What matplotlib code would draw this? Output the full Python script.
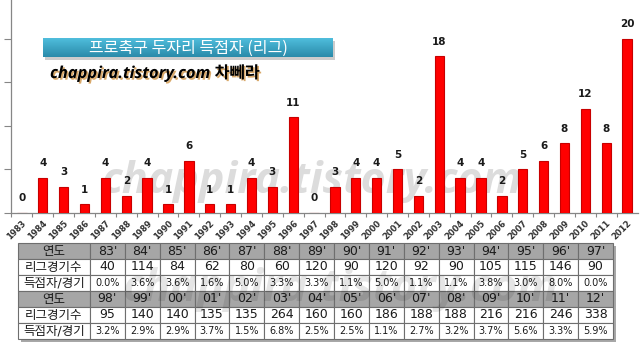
import numpy as np
import matplotlib
matplotlib.use("Agg")
import matplotlib.pyplot as plt
import matplotlib.patheffects as pe
from matplotlib.patches import Rectangle

# ---- data -------------------------------------------------------------
years = ["1983", "1984", "1985", "1986", "1987", "1988", "1989", "1990",
         "1991", "1992", "1993", "1994", "1995", "1996", "1997", "1998",
         "1999", "2000", "2001", "2002", "2003", "2004", "2005", "2006",
         "2007", "2008", "2009", "2010", "2011", "2012"]
scorers = [0, 4, 3, 1, 4, 2, 4, 1, 6, 1, 1, 4, 3, 11, 0,
           3, 4, 4, 5, 2, 18, 4, 4, 2, 5, 6, 8, 12, 8, 20]
seasons = ["83'", "84'", "85'", "86'", "87'", "88'", "89'", "90'", "91'",
           "92'", "93'", "94'", "95'", "96'", "97'",
           "98'", "99'", "00'", "01'", "02'", "03'", "04'", "05'", "06'",
           "07'", "08'", "09'", "10'", "11'", "12'"]
games = [40, 114, 84, 62, 80, 60, 120, 90, 120, 92, 90, 105, 115, 146, 90,
         95, 140, 140, 135, 135, 264, 160, 160, 186, 188, 188, 216, 216, 246, 338]
per_game = ["0.0%", "3.6%", "3.6%", "1.6%", "5.0%", "3.3%", "3.3%", "1.1%",
            "5.0%", "1.1%", "1.1%", "3.8%", "3.0%", "8.0%", "0.0%",
            "3.2%", "2.9%", "2.9%", "3.7%", "1.5%", "6.8%", "2.5%", "2.5%",
            "1.1%", "2.7%", "3.2%", "3.7%", "5.6%", "3.3%", "5.9%"]
row_names = ["연도", "리그경기수", "득점자/경기"]
title = "프로축구 두자리 득점자 (리그)"
subtitle = "chappira.tistory.com 차뻬라"
watermark = "chappira.tistory.com"

W, H = 642, 344
fig = plt.figure(figsize=(W / 100, H / 100), dpi=100)
fig.patch.set_facecolor("white")


def fx(px):
    return px / W


def fy(py):
    return 1 - py / H


KR = ["DejaVu Sans", "Noto Sans CJK KR"]

# ---- watermark behind the bars ----------------------------------------
fig.text(fx(311), fy(193), watermark, ha="center", va="baseline",
         fontsize=31, fontweight="bold", fontstyle="italic",
         family=["Open Sans", "DejaVu Sans"], color="#dcdcdc", zorder=-5)

# ---- bar chart ---------------------------------------------------------
ax = fig.add_axes([fx(11.5), fy(213), fx(637.5) - fx(11.5), 213 / H])
ax.patch.set_alpha(0)
ax.set_zorder(2)
x = np.arange(len(years))
bars = ax.bar(x, scorers, width=0.45, color="#ff0000",
              edgecolor="#c80000", linewidth=0.8, zorder=3)
for xi, v in zip(x, scorers):
    ax.annotate(str(v), (xi, v), xytext=(0, 7), textcoords="offset points",
                ha="center", va="bottom", fontsize=7.5, fontweight="bold",
                color="#1a1a1a", zorder=4)

ax.set_xlim(-0.5, len(years) - 0.5)
ax.set_ylim(0, 24.48)
ax.set_yticks([0, 5, 10, 15, 20])
ax.set_yticklabels([])
ax.tick_params(axis="y", length=5, color="#868686", width=0.8)
ax.set_xticks(x - 0.5, minor=True)
ax.set_xticks(x)
ax.set_xticklabels(years, rotation=45, ha="right", va="top",
                   rotation_mode="anchor", fontsize=6, fontweight="bold",
                   color="#333333")
ax.tick_params(axis="x", which="major", length=0, pad=4)
ax.tick_params(axis="x", which="minor", length=3, color="#868686", width=0.8)
for s in ("top", "right"):
    ax.spines[s].set_visible(False)
for s in ("left", "bottom"):
    ax.spines[s].set_color("#868686")
    ax.spines[s].set_linewidth(0.9)

# ---- title banner -------------------------------------------------------
shadow = Rectangle((fx(45), fy(60)), fx(333) - fx(43), fy(41) - fy(60),
                   transform=fig.transFigure, facecolor="#9a9a9a",
                   alpha=0.5, edgecolor="none", zorder=-2)
fig.patches.append(shadow)
tax = fig.add_axes([fx(43), fy(57), fx(333) - fx(43), fy(38) - fy(57)])
tax.set_zorder(3)
grad = np.linspace(0, 1, 32).reshape(-1, 1)
top_c = np.array([0x4f, 0xbd, 0xdc]) / 255
bot_c = np.array([0x2a, 0x8b, 0xaa]) / 255
img = top_c[None, None, :] * (1 - grad[:, :, None]) + bot_c[None, None, :] * grad[:, :, None]
tax.imshow(img, aspect="auto", extent=[0, 1, 0, 1])
tax.set_axis_off()
tax.text(0.5, 0.48, title, ha="center", va="center", fontsize=11.5,
         family=["Noto Sans CJK KR"], fontweight="medium", color="white",
         transform=tax.transAxes)

fig.text(fx(50), fy(78), subtitle, ha="left", va="baseline", fontsize=11.8,
         fontweight="bold", fontstyle="italic",
         family=["Open Sans", "Noto Sans CJK KR"], color="black", zorder=5,
         path_effects=[pe.SimplePatchShadow(offset=(1.2, -1.2),
                                            shadow_rgbFace="#c9852c",
                                            alpha=0.7),
                       pe.Normal()])

# ---- data table ---------------------------------------------------------
t_left, t_right, t_top, t_bot = 18, 613, 243, 339
fig.patches.append(Rectangle((fx(t_left + 3), fy(t_bot + 3)),
                             fx(t_right) - fx(t_left), fy(t_top) - fy(t_bot),
                             transform=fig.transFigure, facecolor="#a8a8a8",
                             edgecolor="none", zorder=-2))
tab_ax = fig.add_axes([fx(t_left), fy(t_bot), fx(t_right) - fx(t_left),
                       fy(t_top) - fy(t_bot)])
tab_ax.set_zorder(2)
tab_ax.set_axis_off()

half = 15
cells = []
for k in range(2):
    sl = slice(k * half, (k + 1) * half)
    cells.append([row_names[0]] + seasons[sl])
    cells.append([row_names[1]] + [str(g) for g in games[sl]])
    cells.append([row_names[2]] + per_game[sl])

first_w = 72.0
other_w = (t_right - t_left - first_w) / half
col_w = [first_w / (t_right - t_left)] + [other_w / (t_right - t_left)] * half
tbl = tab_ax.table(cellText=cells, colWidths=col_w, cellLoc="center",
                   bbox=[0, 0, 1, 1])
tbl.auto_set_font_size(False)
for (r, c), cell in tbl.get_celld().items():
    cell.set_edgecolor("#6e6e6e")
    cell.set_linewidth(0.8)
    kind = r % 3
    cell.set_facecolor("#a6a6a6" if kind == 0 else "white")
    txt = cell.get_text()
    txt.set_color("#1a1a1a")
    txt.set_family(KR)
    if c == 0:
        txt.set_fontsize(9)
    elif kind == 2:
        txt.set_fontsize(7)
    else:
        txt.set_fontsize(9)

fig.text(fx(340), fy(301), watermark, ha="center", va="baseline",
         fontsize=32, fontweight="bold", fontstyle="italic",
         family=["Open Sans", "DejaVu Sans"], color="#000000", alpha=0.1,
         zorder=10)

fig.savefig("out.png", dpi=100)
